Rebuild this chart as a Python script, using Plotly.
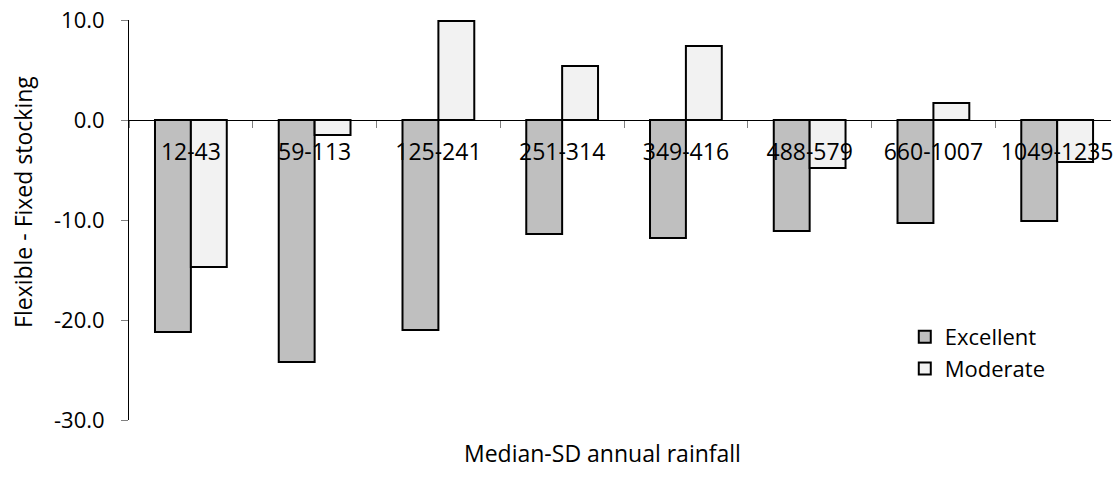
import plotly.graph_objects as go

# Rainfall classes (median-SD annual rainfall, mm)
categories = ["12-43", "59-113", "125-241", "251-314", "349-416",
              "488-579", "660-1007", "1049-1235"]

# Difference in outcome, flexible minus fixed stocking, by land condition
excellent = [-21.2, -24.2, -21.0, -11.4, -11.8, -11.1, -10.3, -10.1]
moderate = [-14.7, -1.5, 9.9, 5.4, 7.4, -4.8, 1.7, -4.2]

y_tickvals = [10, 0, -10, -20, -30]
y_ticktext = ["10.0", "0.0", "-10.0", "-20.0", "-30.0"]

FONT = "Open Sans"
FS = 23

fig = go.Figure()
fig.add_trace(go.Bar(
    x=categories, y=excellent, name="Excellent",
    marker=dict(color="#BFBFBF", line=dict(color="#000000", width=2)),
))
fig.add_trace(go.Bar(
    x=categories, y=moderate, name="Moderate",
    marker=dict(color="#F2F2F2", line=dict(color="#000000", width=2)),
))

fig.update_layout(
    width=1113, height=478,
    margin=dict(l=129, r=0, t=20, b=58),
    paper_bgcolor="white", plot_bgcolor="white",
    font=dict(family=FONT, size=FS, color="#000000"),
    barmode="group", bargap=0.42, bargroupgap=0,
    showlegend=True,
    legend=dict(
        x=0.79, y=0.26, xanchor="left", yanchor="top",
        bgcolor="rgba(0,0,0,0)", font=dict(family=FONT, size=FS - 1),
        itemwidth=30, tracegroupgap=0,
    ),
    xaxis=dict(
        type="category", range=[-0.5, 7.435],
        anchor="free", position=0.75,
        showline=True, linecolor="#000000", linewidth=1,
        ticks="outside", tickson="boundaries", ticklen=7,
        tickcolor="#808080", tickwidth=1,
        ticklabelstandoff=11,
        showgrid=False, zeroline=False,
    ),
    yaxis=dict(
        range=[-30, 10], tickvals=y_tickvals, ticktext=y_ticktext,
        tickfont=dict(family=FONT, size=FS - 1),
        showline=True, linecolor="#000000", linewidth=1,
        ticks="outside", ticklen=7, tickcolor="#808080", tickwidth=1,
        ticklabelstandoff=12,
        showgrid=False, zeroline=False,
    ),
    annotations=[
        dict(text="Flexible - Fixed stocking", xref="paper", yref="paper",
             x=-0.108, y=0.545, xanchor="center", yanchor="middle",
             textangle=-90, showarrow=False, font=dict(family=FONT, size=FS)),
        dict(text="Median-SD annual rainfall", xref="paper", yref="paper",
             x=0.482, y=-0.083, xanchor="center", yanchor="middle",
             showarrow=False, font=dict(family=FONT, size=FS)),
    ],
)

fig.write_html("out.html")
